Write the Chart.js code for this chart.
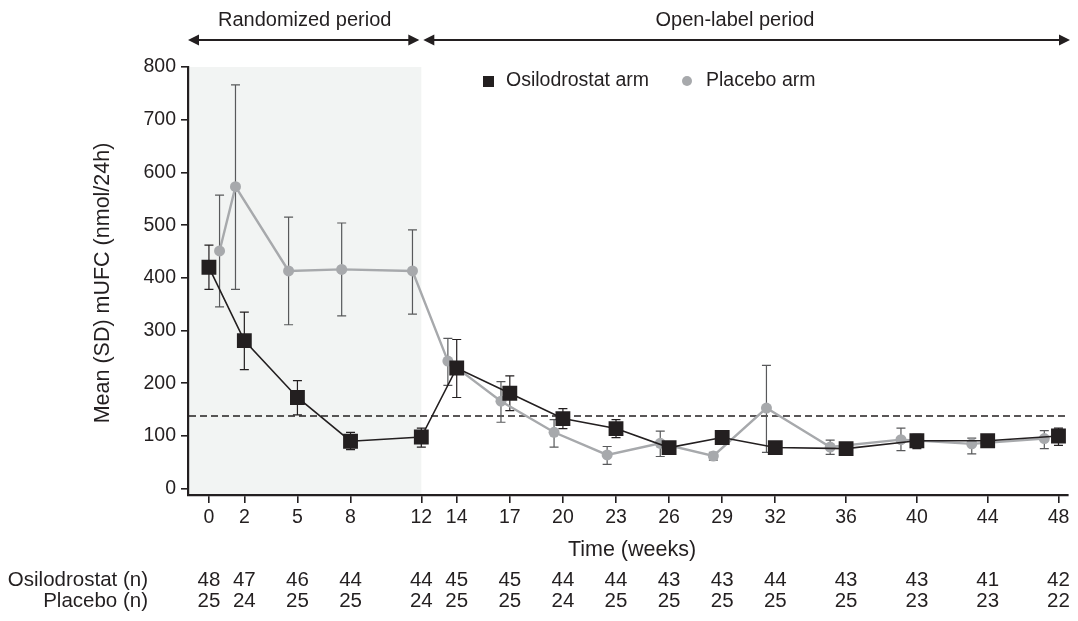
<!DOCTYPE html>
<html><head><meta charset="utf-8">
<script src="https://cdn.jsdelivr.net/npm/chart.js@4.4.1/dist/chart.umd.min.js"></script>
<style>html,body{margin:0;padding:0;background:#fff;}#wrap{width:1078px;height:621px;}</style>
</head><body><div id="wrap"><canvas id="c" width="1078" height="621"></canvas></div>
<script>
const weekTicks = [0,2,5,8,12,14,17,20,23,26,29,32,36,40,44,48];
const osiloWeeks = [0,2,5,8,12,14,17,20,23,26,29,32,36,40,44,48];
const osiloMean = [420,281,173,90,98,229,181,133,114,78,97,78,76,91,91,100];
const osiloSdLow = [378,226,140,74,79,173,148,114,97,68,84,70,66,76,80,82];
const osiloSdHigh = [462,335,205,107,115,283,214,152,131,88,106,86,86,103,100,115];
const placeboWeeks = [0.6,1.5,4.5,7.5,11.5,13.5,16.5,19.5,22.5,25.5,28.5,31.5,35.1,39.1,43.1,47.2];
const placeboMean = [451,573,413,416,413,242,166,107,64,86,62,153,79,93,85,95];
const placeboSdLow = [345,378,311,328,331,196,126,79,46,61,54,69,65,72,66,76];
const placeboSdHigh = [557,766,515,504,491,285,203,131,80,109,69,234,92,115,96,110];
const osiloN = [48,47,46,44,44,45,45,44,44,43,43,44,43,43,41,42];
const placeboN = [25,24,25,25,24,25,25,24,25,25,25,25,25,23,23,22];
const uln = 138;
const randomizedEnd = 12;

const FONT = "'Liberation Sans', Arial, sans-serif";
const TXT = '#231f20';
const GREY = '#a7a9ac';

function arrowHead(ctx, x, y, dir) {
  ctx.beginPath();
  ctx.moveTo(x, y);
  ctx.lineTo(x - dir * 11, y - 5.5);
  ctx.lineTo(x - dir * 11, y + 5.5);
  ctx.closePath();
  ctx.fill();
}

const extras = {
  id: 'extras',
  beforeDraw(chart) {
    const {ctx, chartArea: a, scales: {x}} = chart;
    ctx.save();
    ctx.fillStyle = '#f2f4f3';
    ctx.fillRect(a.left, a.top, x.getPixelForValue(randomizedEnd) - a.left, a.bottom - a.top);
    ctx.restore();
  },
  beforeDatasetsDraw(chart) {
    const {ctx, chartArea: a, scales: {x, y}} = chart;
    ctx.save();
    ctx.strokeStyle = TXT; ctx.lineWidth = 1.6; ctx.setLineDash([7, 4]);
    ctx.beginPath();
    const yy = y.getPixelForValue(uln);
    ctx.moveTo(a.left + 1, yy); ctx.lineTo(a.right, yy); ctx.stroke();
    ctx.setLineDash([]);
    function bars(weeks, lo, hi, color) {
      ctx.strokeStyle = color; ctx.lineWidth = 1.2;
      weeks.forEach((w, i) => {
        const px = x.getPixelForValue(w);
        const p1 = y.getPixelForValue(lo[i]), p2 = y.getPixelForValue(hi[i]);
        ctx.beginPath();
        ctx.moveTo(px, p1); ctx.lineTo(px, p2);
        ctx.moveTo(px - 4.5, p1); ctx.lineTo(px + 4.5, p1);
        ctx.moveTo(px - 4.5, p2); ctx.lineTo(px + 4.5, p2);
        ctx.stroke();
      });
    }
    bars(placeboWeeks, placeboSdLow, placeboSdHigh, '#58595b');
    bars(osiloWeeks, osiloSdLow, osiloSdHigh, TXT);
    ctx.restore();
  },
  afterDraw(chart) {
    const {ctx, chartArea: a, scales: {x}} = chart;
    ctx.save();
    ctx.fillStyle = TXT; ctx.strokeStyle = TXT;
    ctx.font = '20px ' + FONT;
    ctx.textBaseline = 'middle'; ctx.textAlign = 'center';
    const x12 = x.getPixelForValue(randomizedEnd);
    ctx.fillText('Randomized period', (a.left + x12) / 2, 20);
    ctx.fillText('Open-label period', 735, 20);
    ctx.lineWidth = 2;
    ctx.beginPath(); ctx.moveTo(a.left + 4, 40); ctx.lineTo(x12 - 4, 40); ctx.stroke();
    ctx.beginPath(); ctx.moveTo(x12 + 6, 40); ctx.lineTo(1066, 40); ctx.stroke();
    arrowHead(ctx, a.left, 40, -1);
    arrowHead(ctx, x12 - 2, 40, 1);
    arrowHead(ctx, x12 + 2, 40, -1);
    arrowHead(ctx, 1070, 40, 1);
    // legend
    ctx.font = '19.5px ' + FONT;
    ctx.textAlign = 'left';
    ctx.fillRect(483, 76, 11, 11);
    ctx.fillText('Osilodrostat arm', 506, 81);
    ctx.fillStyle = GREY;
    ctx.beginPath(); ctx.arc(687, 81, 5, 0, Math.PI * 2); ctx.fill();
    ctx.fillStyle = TXT;
    ctx.fillText('Placebo arm', 706, 81);
    // axis titles
    ctx.font = '21.5px ' + FONT;
    ctx.textAlign = 'center';
    ctx.fillText('Time (weeks)', 632, 550);
    ctx.save();
    ctx.translate(103, 283); ctx.rotate(-Math.PI / 2);
    ctx.fillText('Mean (SD) mUFC (nmol/24h)', 0, 0);
    ctx.restore();
    // n table
    ctx.font = '20.5px ' + FONT;
    ctx.textAlign = 'right';
    ctx.fillText('Osilodrostat (n)', 148, 580);
    ctx.fillText('Placebo (n)', 148, 601);
    ctx.textAlign = 'center';
    weekTicks.forEach((w, i) => {
      const px = x.getPixelForValue(w);
      ctx.fillText(String(osiloN[i]), px, 580);
      ctx.fillText(String(placeboN[i]), px, 601);
    });
    ctx.restore();
  }
};

new Chart(document.getElementById('c'), {
  type: 'line',
  data: {
    datasets: [
      {
        label: 'Osilodrostat arm',
        data: osiloWeeks.map((w, i) => ({x: w, y: osiloMean[i]})),
        borderColor: TXT, backgroundColor: TXT, borderWidth: 1.6,
        pointStyle: 'rect', pointRadius: 10.5, pointBorderWidth: 0, tension: 0
      },
      {
        label: 'Placebo arm',
        data: placeboWeeks.map((w, i) => ({x: w, y: placeboMean[i]})),
        borderColor: GREY, backgroundColor: GREY, borderWidth: 2.4,
        pointStyle: 'circle', pointRadius: 5.5, pointBorderWidth: 0, tension: 0
      }
    ]
  },
  options: {
    responsive: false, animation: false,
    layout: {padding: {left: 0, right: 8, top: 67, bottom: 0}},
    plugins: {legend: {display: false}, tooltip: {enabled: false}},
    scales: {
      x: {
        type: 'linear', min: -1.183, max: 48.51,
        afterBuildTicks: s => { s.ticks = weekTicks.map(v => ({value: v})); },
        afterFit: s => { s.height = 126; },
        grid: {display: true, drawOnChartArea: false, drawTicks: true, tickLength: 8, color: TXT, lineWidth: 1.6},
        border: {display: true, color: TXT, width: 2.2},
        ticks: {font: {family: FONT, size: 19.5}, color: TXT, padding: 3, maxRotation: 0, autoSkip: false}
      },
      y: {
        min: -12, max: 800,
        afterFit: s => { s.width = 188; },
        grid: {display: true, drawOnChartArea: false, drawTicks: true, tickLength: 7, color: TXT, lineWidth: 1.6},
        border: {display: true, color: TXT, width: 2.2},
        ticks: {stepSize: 100, includeBounds: false, font: {family: FONT, size: 19.5}, color: TXT, padding: 5}
      }
    }
  },
  plugins: [extras]
});
</script>
</body></html>
